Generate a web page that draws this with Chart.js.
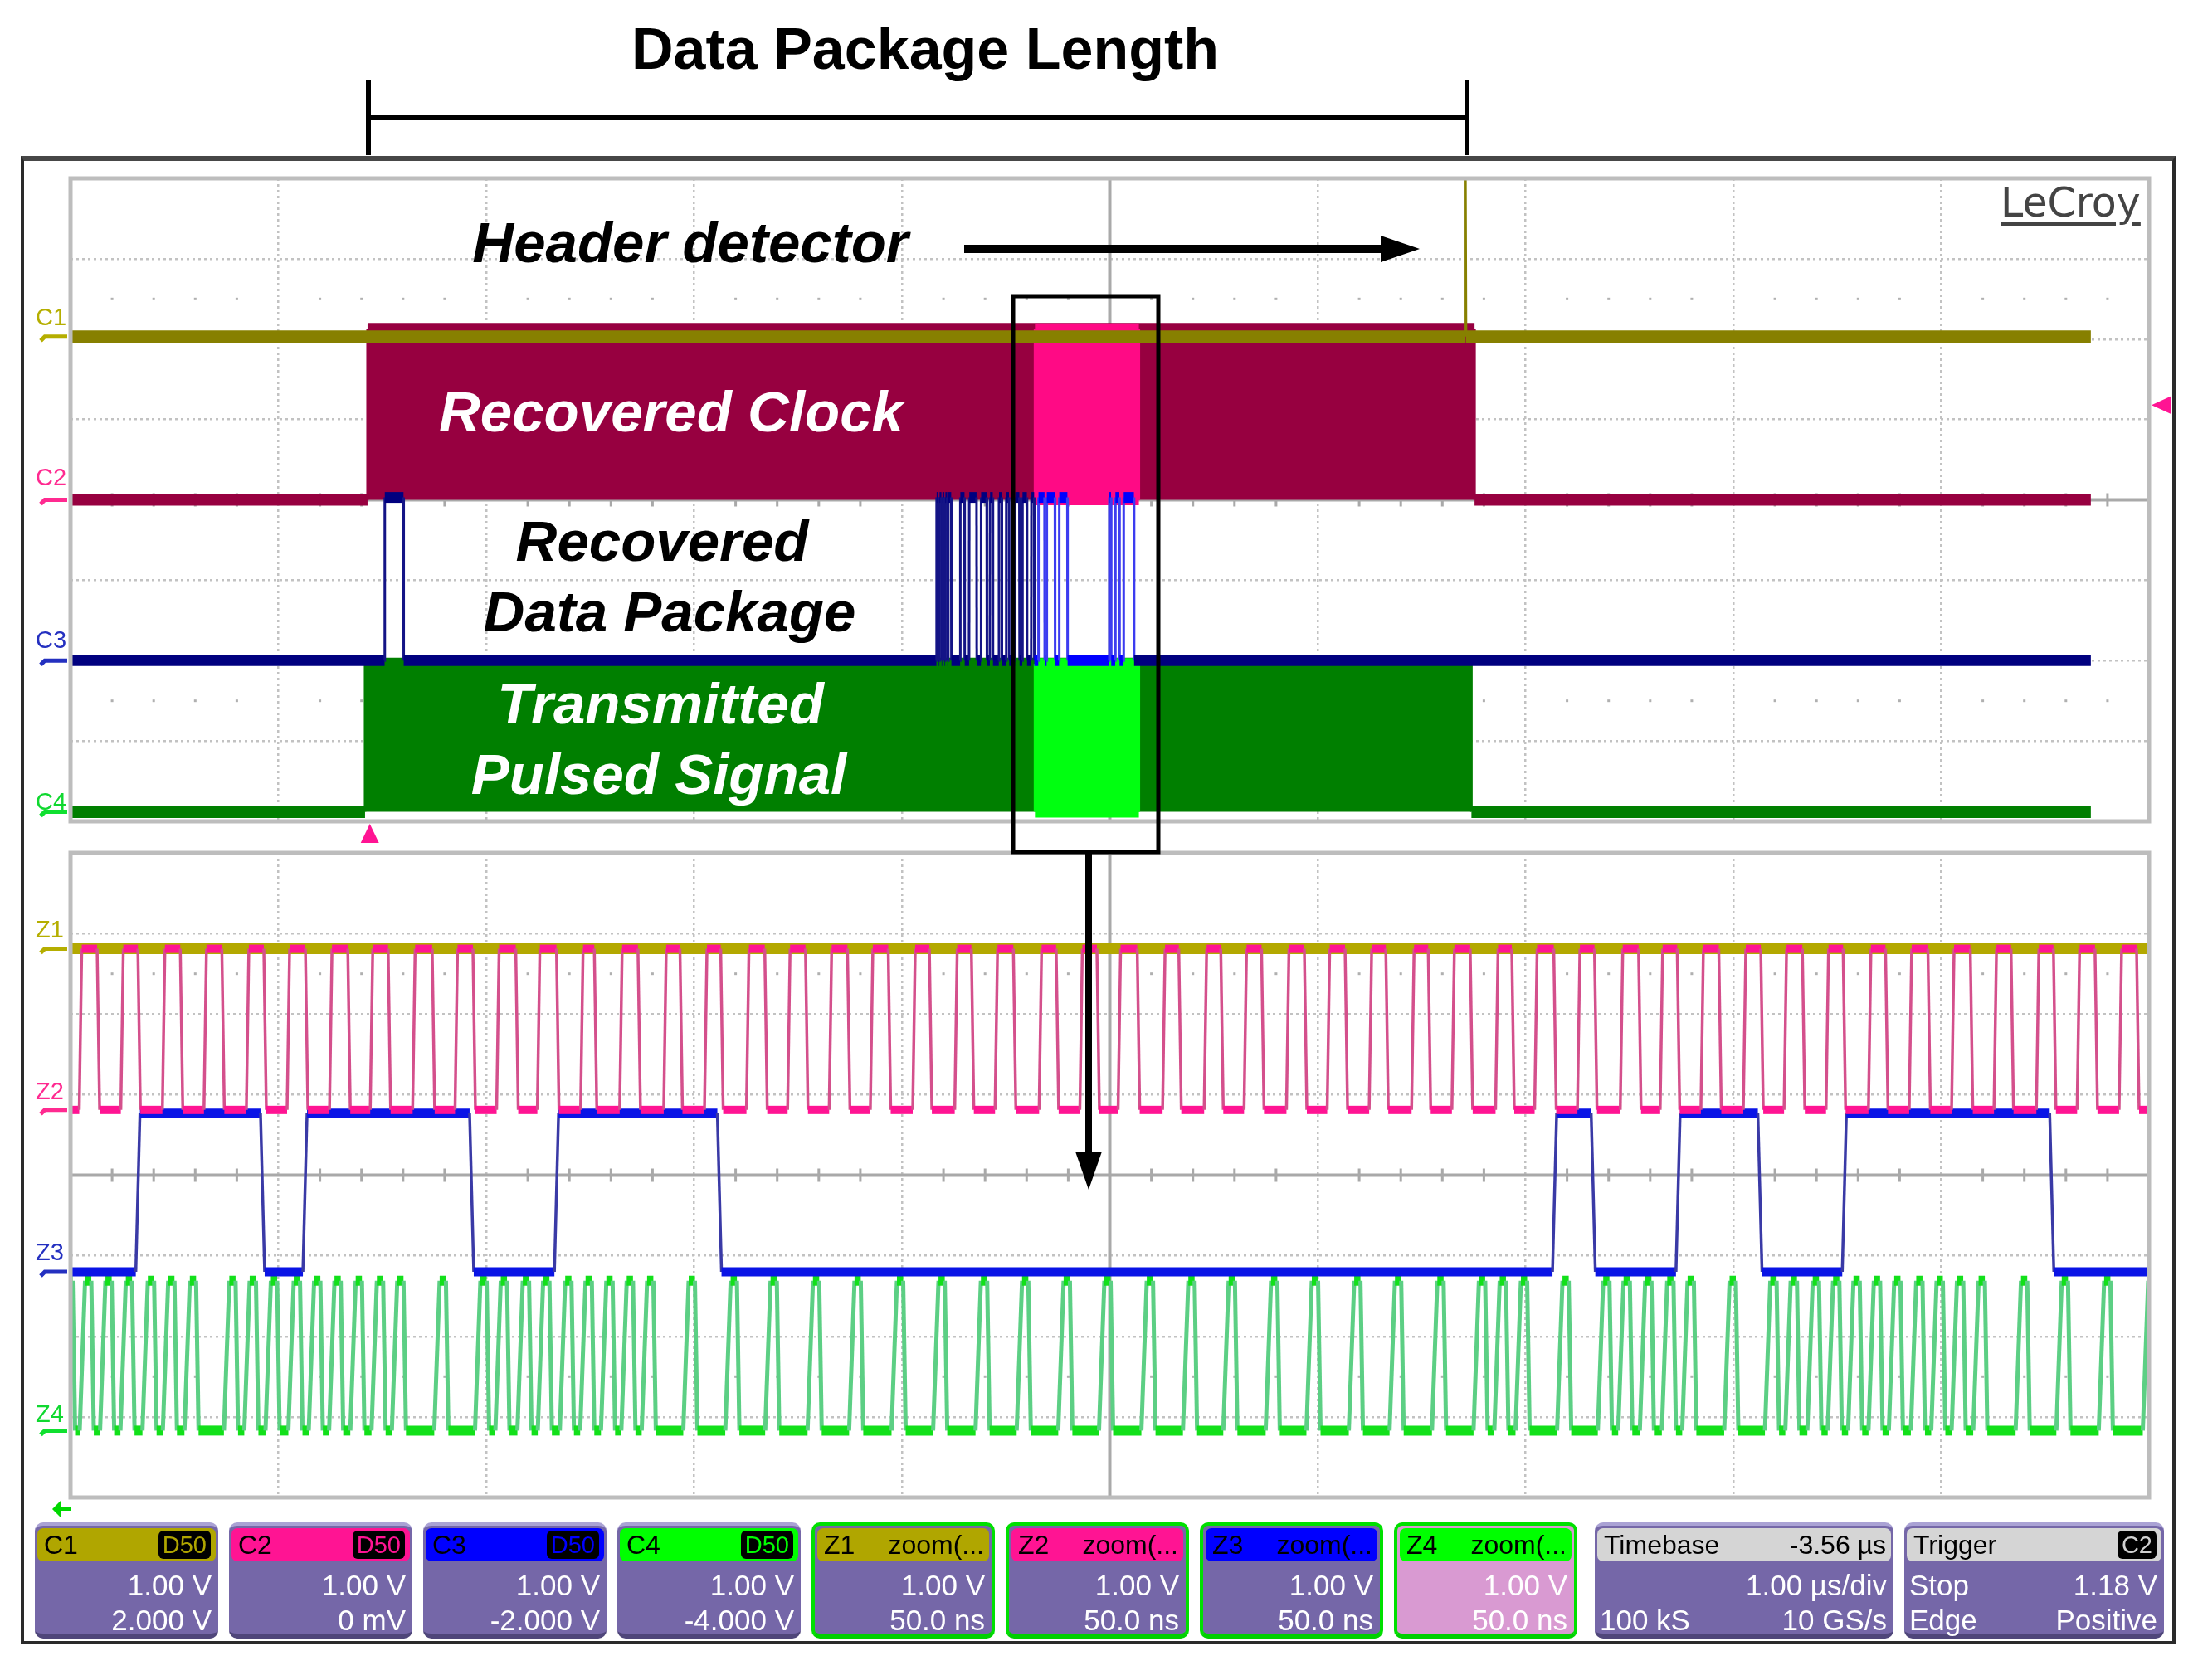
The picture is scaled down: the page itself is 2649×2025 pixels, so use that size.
<!DOCTYPE html>
<html>
<head>
<meta charset="utf-8">
<title>Data Package Length</title>
<script src="https://cdn.jsdelivr.net/npm/chart.js@4.4.1/dist/chart.umd.min.js"></script>
<style>
  html, body { margin: 0; padding: 0; background: #fff; }
  body { position: relative; width: 2649px; height: 2025px; overflow: hidden;
         font-family: "Liberation Sans", Arial, sans-serif; }
  #frame { position: absolute; left: 25px; top: 188px; width: 2597px; height: 1794px;
           box-sizing: border-box; border: 4px solid #2a2a2a; border-top: 6px solid #474747; }
  canvas { position: absolute; }
  svg { position: absolute; left: 0; top: 0; }
  .title { position: absolute; left: 1115px; top: 24px; transform: translateX(-50%);
           font-weight: bold; font-size: 70px; line-height: 70px; white-space: nowrap; }
  .note { position: absolute; transform: translateX(-50%); font-weight: bold; font-style: italic;
          font-size: 69px; line-height: 69px; white-space: nowrap; }
  .tag { position: absolute; left: 43px; font-size: 29px; line-height: 29px; }
  .logo { position: absolute; left: 2411px; top: 220px; font-family: "DejaVu Sans", sans-serif;
          font-size: 49px; line-height: 49px; color: #444; text-decoration: underline;
          text-decoration-thickness: 5px; text-underline-offset: 6px; }
  .box { position: absolute; top: 1835px; height: 140px; box-sizing: border-box; background: #7567a8;
         border-radius: 10px; border-top: 4px solid #aaa2d4; border-bottom: 6px solid #4f467a; }
  .box.sel { border: 4px solid #00e000; border-bottom: 6px solid #00d000; }
  .hdr { position: absolute; left: 3px; right: 3px; top: 3px; height: 40px; border-radius: 7px;
         font-size: 32px; line-height: 40px; color: #000; padding: 0 6px 0 8px;
         display: flex; justify-content: space-between; white-space: nowrap; }
  .badge { background: #000; border-radius: 6px; font-size: 29px; line-height: 34px; height: 34px;
           margin-top: 3px; padding: 0 5px; }
  .ln { position: absolute; right: 8px; font-size: 35px; line-height: 35px; color: #fff; white-space: nowrap; }
  .ln.l { right: auto; left: 6px; }
</style>
</head>
<body>
<div id="frame"></div>
<canvas id="topScope" width="2590" height="826" style="left:29px;top:194px"></canvas>
<canvas id="zoomScope" width="2590" height="800" style="left:29px;top:1020px"></canvas>

<svg width="2649" height="2025">
  <path d="M444 97 V187 M1768 97 V187 M444 142 H1768" stroke="#000" stroke-width="6" fill="none"/>
  <path d="M1162 300 H1668" stroke="#000" stroke-width="10"/>
  <polygon points="1664,284 1711,300 1664,316" fill="#000"/>
  <rect x="1221" y="357" width="175" height="670" fill="none" stroke="#000" stroke-width="5"/>
  <path d="M1312 1027 V1395" stroke="#000" stroke-width="8"/>
  <polygon points="1296,1388 1328,1388 1312,1434" fill="#000"/>
  <path d="M86 1819 H70" stroke="#00d800" stroke-width="4"/>
  <polygon points="63,1819 73,1809 73,1829" fill="#00d800"/>
</svg>

<div class="title">Data Package Length</div>
<div class="logo">LeCroy</div>
<div class="note" style="left:832px;top:258px;color:#000">Header detector</div>
<div class="note" style="left:809px;top:462px;color:#fff">Recovered Clock</div>
<div class="note" style="left:798px;top:618px;color:#000">Recovered</div>
<div class="note" style="left:807px;top:703px;color:#000">Data Package</div>
<div class="note" style="left:796px;top:814px;color:#fff">Transmitted</div>
<div class="note" style="left:794px;top:899px;color:#fff">Pulsed Signal</div>

<div class="tag" style="top:368px;color:#b5ae00">C1</div>
<div class="tag" style="top:561px;color:#ff2a90">C2</div>
<div class="tag" style="top:757px;color:#2430c0">C3</div>
<div class="tag" style="top:952px;color:#10d830">C4</div>
<div class="tag" style="top:1106px;color:#b5ae00">Z1</div>
<div class="tag" style="top:1301px;color:#ff2a90">Z2</div>
<div class="tag" style="top:1495px;color:#2430c0">Z3</div>
<div class="tag" style="top:1690px;color:#10d830">Z4</div>

<div id="infobar"></div>

<script>
// ---------- top panel: 1.00 us/div, trigger delay -3.56 us, 1 V/div (offsets included)
const topSpan = [-1.44, 8.56];      // us across the ten divisions
const zoomWindow = [3.20, 3.70];    // us, enlarged in the lower panel
const recordEnd = 8.28;            // us, last sample on screen
const triggerLevel = 1.18;

const c1Level = 2.03;
const c1Spike = [5.27, 4.1];       // header detector pulse: time, peak
const c2Levels = [0, 2.13];
const c2Burst = [-0.011, 5.315];
const c3Levels = [-2.0, 0.03];
const c3Pulses = [
  [0.071, 0.162],
  [2.726, 2.736], [2.740, 2.750], [2.754, 2.764], [2.768, 2.778], [2.782, 2.797],
  [2.840, 2.861], [2.883, 2.919], [2.940, 2.968], [2.983, 2.997], [3.026, 3.040],
  [3.061, 3.075], [3.104, 3.125], [3.139, 3.161], [3.182, 3.196],
  [3.216, 3.246], [3.256, 3.296], [3.316, 3.356], [3.557, 3.566], [3.586, 3.606], [3.626, 3.676]
];
const c4Levels = [-3.88, -2.04];
const c4Burst = [-0.023, 5.30];

// ---------- zoom panel: 50 ns/div
const zoomSpan = [0, 500];         // ns
const z1Level = 2.81;
const z2Levels = [0.81, 2.81];
const z2Rise = [2.1, 12.1, 22.1, 32.1, 42.3, 52.1, 62.3, 72.1, 82.3, 92.5, 102.5, 112.3, 122.7,
  132.1, 142.7, 152.5, 162.6, 172.5, 182.5, 192.4, 202.6, 212.7, 222.4, 233.0, 242.8,
  252.0, 262.7, 272.7, 282.3, 292.5, 302.3, 312.4, 322.6, 332.3, 342.8, 352.2, 362.5, 372.8,
  382.4, 392.2, 402.4, 412.2, 422.3, 432.5, 442.3, 452.5, 462.7, 472.9, 482.7, 492.8];
const z2Fall = [6.4, 16.2, 26.4, 36.4, 46.5, 56.5, 66.7, 76.4, 87.0, 96.8, 107.1, 116.9,
  126.0, 136.5, 146.6, 156.4, 167.0, 176.8, 186.9, 196.7, 206.6, 216.7, 226.8, 237.1, 246.9,
  256.6, 266.6, 276.7, 286.5, 296.8, 306.6, 316.4, 326.6, 336.7, 346.7, 356.8, 366.6, 377.2,
  386.5, 396.5, 406.6, 416.6, 426.4, 436.6, 446.8, 457.0, 466.8, 477.0, 487.0, 497.0];
const z3Levels = [-1.20, 0.77];
const z3Edges = [15.7, 45.7, 55.9, 96.0, 116.4, 155.6, 356.5, 365.8, 386.2, 405.9, 426.2, 476.1];
const z4Levels = [-3.17, -1.31];
const z4Peaks = [0.2, 4.7, 9.6, 14.5, 19.8, 24.7, 29.9, 39.4, 44.3, 49.4, 54.9, 59.8, 64.7,
  69.8, 74.9, 79.8, 90.0, 99.8, 104.7, 110.0, 114.9, 120.2, 125.1, 130.1, 135.0, 139.9,
  149.9, 160.0, 169.6, 179.8, 189.8, 200.0, 210.0, 220.2, 230.1, 240.1, 249.9, 260.1, 270.1,
  279.8, 290.0, 299.8, 310.0, 319.8, 330.0, 340.0, 345.0, 350.1, 360.1, 369.9, 374.8, 380.0,
  385.3, 390.2, 400.3, 410.1, 415.0, 420.3, 425.2, 430.1, 435.0, 439.9, 445.2, 450.1, 455.0,
  460.2, 470.4, 480.2, 490.4, 501.0];

// ---------- info bar text
const infoBoxes = [
  ['C1', 'D50', '', '1.00 V', '', '2.000 V'],
  ['C2', 'D50', '', '1.00 V', '', '0 mV'],
  ['C3', 'D50', '', '1.00 V', '', '-2.000 V'],
  ['C4', 'D50', '', '1.00 V', '', '-4.000 V'],
  ['Z1', 'zoom(...', '', '1.00 V', '', '50.0 ns'],
  ['Z2', 'zoom(...', '', '1.00 V', '', '50.0 ns'],
  ['Z3', 'zoom(...', '', '1.00 V', '', '50.0 ns'],
  ['Z4', 'zoom(...', '', '1.00 V', '', '50.0 ns'],
  ['Timebase', '-3.56 µs', '', '1.00 µs/div', '100 kS', '10 GS/s'],
  ['Trigger', 'C2', 'Stop', '1.18 V', 'Edge', 'Positive']
];
const hues = ['#b0a600', '#ff1493', '#0000ff', '#00ff00'];

// ---------- helpers building point lists from the arrays above
function steps(edges, lv, x0, x1, rise) {
  let s = 0;
  const out = [{x: x0, y: lv[0]}];
  edges.forEach(function(t) {
    out.push({x: t, y: lv[s]});
    s = 1 - s;
    out.push({x: t + rise, y: lv[s]});
  });
  out.push({x: x1, y: lv[s]});
  return out;
}

function pulses(peaks, lv, x0, x1) {
  const out = [{x: x0, y: lv[0]}];
  peaks.forEach(function(p) {
    out.push({x: p - 2.5, y: lv[0]}, {x: p - 1.2, y: lv[1]}, {x: p + 0.3, y: lv[1]}, {x: p + 0.9, y: lv[0]});
  });
  out.push({x: x1, y: lv[0]});
  return out;
}

function burst(b, lv, x0, x1) {
  return [{x: x0, y: lv[0]}, {x: b[0], y: lv[0]}, {x: b[0], y: lv[1]},
          {x: b[1], y: lv[1]}, {x: b[1], y: lv[0]}, {x: x1, y: lv[0]}];
}

function block(b, lv) {
  return [{x: b[0], y: lv[0]}, {x: b[0], y: lv[1]}, {x: b[1], y: lv[1]},
          {x: b[1], y: lv[0]}, {x: b[0], y: lv[0]}];
}

function flat(c) { return c.p0.parsed.y === c.p1.parsed.y; }

function trace(band, edge, bandW, edgeW) {
  return {
    borderColor: band, borderWidth: edgeW, pointRadius: 0, clip: 0, fill: false,
    segment: {
      borderColor: function(c) { return flat(c) ? band : edge; },
      borderWidth: function(c) { return flat(c) ? bandW : edgeW; }
    }
  };
}

const c1Points = [{x: topSpan[0], y: c1Level}, {x: c1Spike[0], y: c1Level},
  {x: c1Spike[0], y: c1Spike[1]}, {x: c1Spike[0] + 0.003, y: c1Level}, {x: recordEnd, y: c1Level}];

const c3Trace = trace('#00007f', '#141486', 15, 3);
c3Trace.segment = {
  borderColor: function(c) {
    const m = (c.p0.parsed.x + c.p1.parsed.x) / 2;
    const inside = m >= zoomWindow[0] && m <= zoomWindow[1];
    if (flat(c)) return inside ? '#0000ff' : '#00007f';
    return inside ? '#3c3cf0' : '#141486';
  },
  borderWidth: function(c) { return flat(c) ? 13 : 3; }
};

// ---------- grid, level markers and trigger marks
const scopeGrid = {
  id: 'scopeGrid',
  beforeDatasetsDraw: function(chart, args, o) {
    const ctx = chart.ctx, a = chart.chartArea, x = chart.scales.x, y = chart.scales.y;
    const cx = x.getPixelForValue(o.centre), cy = y.getPixelForValue(0);
    const dx = a.width / 50;
    ctx.save();
    ctx.strokeStyle = '#a9a9a9';
    ctx.lineWidth = 4;
    ctx.beginPath();
    ctx.moveTo(cx, a.top); ctx.lineTo(cx, a.bottom);
    ctx.moveTo(a.left, cy); ctx.lineTo(a.right, cy);
    ctx.stroke();
    ctx.lineWidth = 3;
    ctx.beginPath();
    for (let k = 1; k < 50; k++) {
      if (k % 5 === 0) continue;
      ctx.moveTo(a.left + k * dx, cy - 8); ctx.lineTo(a.left + k * dx, cy + 8);
    }
    ctx.stroke();
    ctx.fillStyle = '#b0b0b0';
    [2.5, -2.5].forEach(function(r) {
      const py = y.getPixelForValue(r);
      for (let k = 1; k < 50; k++) {
        if (k % 5 === 0) continue;
        ctx.fillRect(a.left + k * dx - 1.5, py - 1.5, 3, 3);
      }
    });
    ctx.restore();
  },
  afterDatasetsDraw: function(chart, args, o) {
    const ctx = chart.ctx, a = chart.chartArea, x = chart.scales.x, y = chart.scales.y;
    ctx.save();
    ctx.strokeStyle = '#bdbdbd';
    ctx.lineWidth = 5;
    ctx.strokeRect(a.left, a.top, a.width, a.height);
    o.markers.forEach(function(m) {
      const py = y.getPixelForValue(m.level);
      ctx.strokeStyle = m.color;
      ctx.beginPath();
      ctx.moveTo(a.left - 36, py + 5); ctx.lineTo(a.left - 31, py); ctx.lineTo(a.left - 4, py);
      ctx.stroke();
    });
    if (o.trigger) {
      ctx.fillStyle = '#ff1493';
      const tx = x.getPixelForValue(0);
      ctx.beginPath();
      ctx.moveTo(tx, a.bottom + 3); ctx.lineTo(tx + 11, a.bottom + 26); ctx.lineTo(tx - 11, a.bottom + 26);
      ctx.fill();
      const ly = y.getPixelForValue(triggerLevel);
      ctx.beginPath();
      ctx.moveTo(a.right + 3, ly); ctx.lineTo(a.right + 27, ly - 11); ctx.lineTo(a.right + 27, ly + 11);
      ctx.fill();
    }
    ctx.restore();
  }
};

function gridColour(n) {
  return function(c) {
    return (c.index === 0 || c.index === n || c.index === n / 2) ? 'rgba(0,0,0,0)' : '#c2c2c2';
  };
}

function axis(lo, hi, n) {
  return {
    type: 'linear', min: lo, max: hi,
    afterBuildTicks: function(ax) {
      const t = [];
      for (let k = 0; k <= n; k++) t.push({value: lo + k * (hi - lo) / n});
      ax.ticks = t;
    },
    ticks: {display: false, autoSkip: false},
    grid: {color: gridColour(n), lineWidth: 2.5, drawTicks: false, tickLength: 0},
    border: {display: false, dash: [3, 4]}
  };
}

function scope(id, span, datasets, decor, padding) {
  return new Chart(document.getElementById(id), {
    type: 'line',
    data: {datasets: datasets},
    options: {
      responsive: false, animation: false, events: [],
      layout: {padding: padding},
      elements: {point: {radius: 0}, line: {tension: 0, borderCapStyle: 'butt'}},
      plugins: {legend: {display: false}, tooltip: {enabled: false}, scopeGrid: decor},
      scales: {x: axis(span[0], span[1], 10), y: axis(-4, 4, 8)}
    },
    plugins: [scopeGrid]
  });
}

scope('topScope', topSpan, [
  Object.assign({label: 'C1', data: c1Points}, trace('#878000', '#878000', 15, 3.5)),
  Object.assign({label: 'C3', data: steps(c3Pulses.flat(), c3Levels, topSpan[0], recordEnd, 0.001)}, c3Trace),
  Object.assign({label: 'C2 zoom', data: block(zoomWindow, c2Levels)}, trace('#ff0a85', '#ff0a85', 13, 3),
    {fill: {value: c2Levels[0]}, backgroundColor: '#ff0a85'}),
  Object.assign({label: 'C4 zoom', data: block(zoomWindow, c4Levels)}, trace('#00ff10', '#00ff10', 14, 3),
    {fill: {value: c4Levels[0]}, backgroundColor: '#00ff10'}),
  Object.assign({label: 'C2', data: burst(c2Burst, c2Levels, topSpan[0], recordEnd)}, trace('#970040', '#970040', 14, 3),
    {fill: {value: c2Levels[0]}, backgroundColor: '#970040'}),
  Object.assign({label: 'C4', data: burst(c4Burst, c4Levels, topSpan[0], recordEnd)}, trace('#007f00', '#007f00', 15, 3),
    {fill: {value: c4Levels[0]}, backgroundColor: '#007f00'})
], {
  centre: (topSpan[0] + topSpan[1]) / 2, trigger: true,
  markers: [{level: c1Level, color: '#b5ae00'}, {level: c2Levels[0], color: '#ff2a90'},
            {level: c3Levels[0], color: '#2430c0'}, {level: c4Levels[0], color: '#10e030'}]
}, {left: 56, top: 21, right: 29, bottom: 30});

scope('zoomScope', zoomSpan, [
  Object.assign({label: 'Z2', data: steps(z2Rise.concat(z2Fall).sort(function(a, b) { return a - b; }),
    z2Levels, zoomSpan[0], zoomSpan[1], 0.6)}, trace('#ff1493', '#d4508c', 10, 3.5)),
  Object.assign({label: 'Z1', data: [{x: zoomSpan[0], y: z1Level}, {x: zoomSpan[1], y: z1Level}]},
    trace('#b3a800', '#b3a800', 13, 3)),
  Object.assign({label: 'Z3', data: steps(z3Edges, z3Levels, zoomSpan[0], zoomSpan[1], 1.0)},
    trace('#0a14e6', '#3a3aa6', 11, 3.5)),
  Object.assign({label: 'Z4', data: pulses(z4Peaks, z4Levels, zoomSpan[0], zoomSpan[1])},
    trace('#12e01a', '#5ccf84', 12, 5))
], {
  centre: (zoomSpan[0] + zoomSpan[1]) / 2, trigger: false,
  markers: [{level: z1Level, color: '#b5ae00'}, {level: z2Levels[0], color: '#ff2a90'},
            {level: z3Levels[0], color: '#2430c0'}, {level: z4Levels[0], color: '#10e030'}]
}, {left: 56, top: 8, right: 29, bottom: 15});

// ---------- info bar
const bar = document.getElementById('infobar');
infoBoxes.forEach(function(b, i) {
  const box = document.createElement('div');
  box.className = 'box' + (i >= 4 && i < 8 ? ' sel' : '');
  let left = 42 + i * 234, width = 221, hue = '#d5d5d5';
  if (i < 8) hue = hues[i % 4];
  if (i === 8) { left = 1922; width = 360; }
  if (i === 9) { left = 2295; width = 313; }
  box.style.left = left + 'px';
  box.style.width = width + 'px';
  if (i === 7) box.style.background = '#d99ad2';
  const right = (i < 4) ? '<span class="badge" style="color:' + hue + '">' + b[1] + '</span>'
    : (i === 9) ? '<span class="badge" style="color:#d0d0d0">' + b[1] + '</span>'
    : '<span>' + b[1] + '</span>';
  box.innerHTML = '<div class="hdr" style="background:' + hue + '"><span>' + b[0] + '</span>' + right + '</div>' +
    '<div class="ln l" style="top:54px">' + b[2] + '</div><div class="ln" style="top:54px">' + b[3] + '</div>' +
    '<div class="ln l" style="top:96px">' + b[4] + '</div><div class="ln" style="top:96px">' + b[5] + '</div>';
  bar.appendChild(box);
});
</script>
</body>
</html>
